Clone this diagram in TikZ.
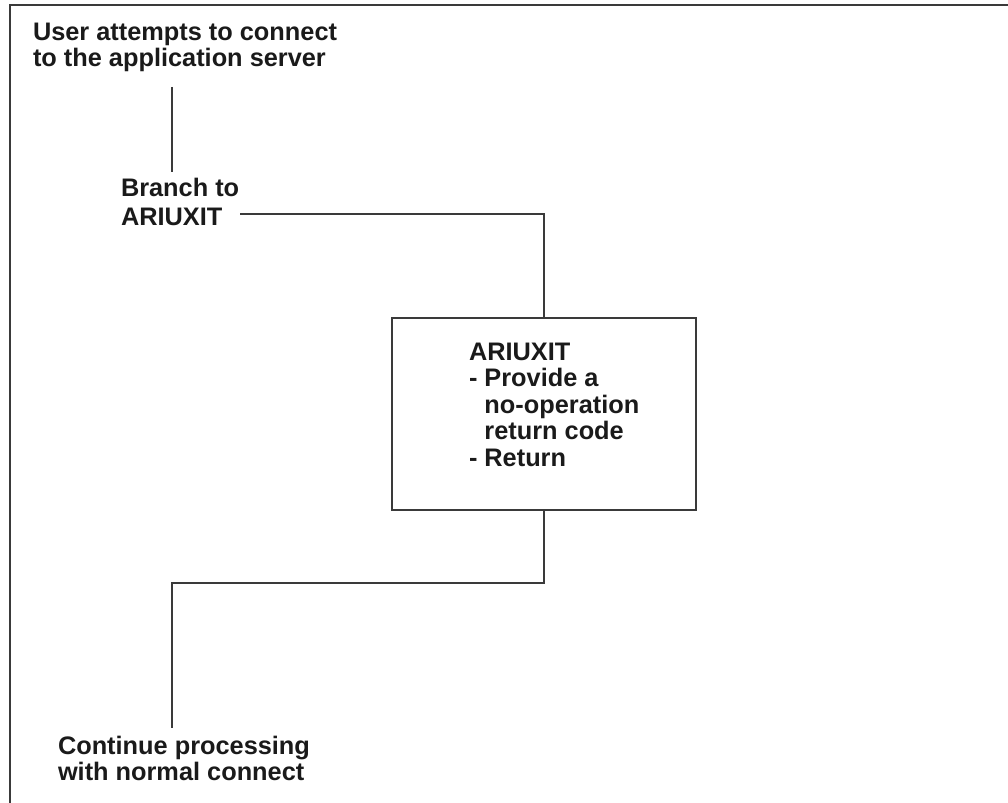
\documentclass[tikz,border=0pt]{standalone}
\usepackage{fontspec}
\setmainfont{Liberation Sans}
\definecolor{ln}{HTML}{3A3A3A}
\definecolor{txt}{HTML}{1A1A1A}
\begin{document}
\begin{tikzpicture}[x=0.75pt,y=-0.75pt,
  lbl/.style={inner sep=0pt, outer sep=0pt, anchor=north west, align=left,
    font=\fontsize{19}{19.8}\selectfont\bfseries, text=txt},
  conn/.style={draw=ln, line width=1pt},
  framel/.style={draw=ln, line width=1.6pt},
  boxst/.style={draw=ln, line width=1pt, inner sep=0pt, outer sep=0pt,
    minimum width=228pt, minimum height=144pt}]
\useasboundingbox (0,0) rectangle (1008,803);
% frame
\draw[framel] (1008,5) -- (10,5) -- (10,803);
% nodes
\node[lbl] (start) at (33,23) {User attempts to connect\\to the application server};
\node[lbl] (branch) at (121,178) {Branch to\\[2.2pt]ARIUXIT};
\node[boxst] (box) at (544,414) {};
\node[lbl] (exittext) at (469,343) {ARIUXIT\\- Provide a\\\hphantom{-}\ no-operation\\\hphantom{-}\ return code\\- Return};
\node[lbl] (cont) at (58,736) {Continue processing\\with normal connect};
% helper coordinates
\coordinate (colA) at (172,0);
\coordinate (hstart) at (240,214);
\coordinate (bend) at (172,583);
% connectors
\draw[conn] ([yshift=-11pt]start.south -| colA) -- ([yshift=4.5pt]branch.north -| colA);
\draw[conn] (hstart) -| (box.north);
\draw[conn] (box.south) |- (bend) -- ([yshift=6pt]cont.north -| colA);
\end{tikzpicture}
\end{document}
